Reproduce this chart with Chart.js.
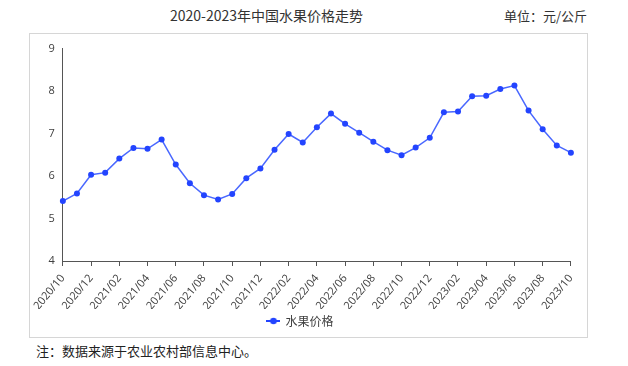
<!DOCTYPE html>
<html>
<head>
<meta charset="utf-8">
<script src="https://cdn.jsdelivr.net/npm/chart.js@4.4.1/dist/chart.umd.min.js"></script>
<style>
    body { margin: 0; background: #fff; width: 628px; height: 366px; position: relative; overflow: hidden;
           font-family: "Noto Sans CJK SC", sans-serif; color: #222; }
    #title { position: absolute; left: 170px; top: 5px; font-size: 14px; white-space: nowrap; color: #333; }
    #unit { position: absolute; left: 504px; top: 6px; font-size: 13px; color: #333; white-space: nowrap; }
    #box { position: absolute; left: 29px; top: 33px; width: 557px; height: 303px; border: 1px solid #d6d6d6; }
    #note { position: absolute; left: 36px; top: 341px; font-size: 13px; white-space: nowrap; }
</style>
</head>
<body>
<div id="title">2020-2023年中国水果价格走势</div>
<div id="unit">单位：元/公斤</div>
<div id="box"><canvas id="myChart" width="557" height="303"></canvas></div>
<div id="note">注：数据来源于农业农村部信息中心。</div>
<script>
// months 2020/10 .. 2023/10
var months = [
    '2020/10','2020/11','2020/12',
    '2021/01','2021/02','2021/03','2021/04','2021/05','2021/06','2021/07','2021/08','2021/09','2021/10','2021/11','2021/12',
    '2022/01','2022/02','2022/03','2022/04','2022/05','2022/06','2022/07','2022/08','2022/09','2022/10','2022/11','2022/12',
    '2023/01','2023/02','2023/03','2023/04','2023/05','2023/06','2023/07','2023/08','2023/09','2023/10'
];
var fruitPrice = [
    5.41, 5.59, 6.03,
    6.08, 6.41, 6.66, 6.64, 6.86, 6.27, 5.83, 5.55, 5.45, 5.58, 5.95, 6.18,
    6.62, 6.99, 6.79, 7.15, 7.47, 7.23, 7.02, 6.81, 6.61, 6.49, 6.67, 6.90,
    7.50, 7.52, 7.88, 7.89, 8.05, 8.13, 7.54, 7.10, 6.72, 6.55
];
var seriesName = '水果价格';
var yMin = 4, yMax = 9;

var lineColor = '#4a68ff';
var dotColor = '#2344ff';
var axisColor = '#555';
var textColor = '#404040';

// legend glyph: -●-
var legendIcon = document.createElement('canvas');
legendIcon.width = 14; legendIcon.height = 10;
(function(){
    var c = legendIcon.getContext('2d');
    c.strokeStyle = dotColor; c.lineWidth = 2;
    c.beginPath(); c.moveTo(0, 5); c.lineTo(4, 5); c.moveTo(10, 5); c.lineTo(14, 5); c.stroke();
    c.fillStyle = dotColor;
    c.beginPath(); c.arc(7, 5, 3.3, 0, Math.PI * 2); c.fill();
})();

var ctx = document.getElementById('myChart').getContext('2d');
var chart = new Chart(ctx, {
    type: 'line',
    data: {
        labels: months,
        datasets: [{
            label: seriesName,
            data: fruitPrice,
            borderColor: lineColor,
            backgroundColor: dotColor,
            borderWidth: 1.5,
            pointRadius: 3,
            pointBackgroundColor: dotColor,
            pointBorderColor: dotColor,
            pointBorderWidth: 0,
            pointStyle: 'circle',
            tension: 0
        }]
    },
    options: {
        responsive: false,
        animation: false,
        layout: { padding: { left: 0, right: 16, top: 11, bottom: 0 } },
        plugins: {
            title: { display: false },
            tooltip: { enabled: false },
            legend: {
                position: 'bottom',
                labels: {
                    usePointStyle: true,
                    pointStyle: legendIcon,
                    padding: 6,
                    color: textColor,
                    font: { family: '"Noto Sans CJK SC", sans-serif', size: 12 },
                    generateLabels: function(chart) {
                        return [{ text: seriesName, pointStyle: legendIcon, fontColor: textColor, datasetIndex: 0, lineWidth: 0 }];
                    }
                }
            }
        },
        scales: {
            x: {
                offset: false,
                grid: {
                    display: true,
                    drawOnChartArea: false,
                    drawTicks: true,
                    tickLength: 5,
                    tickColor: function(c) { return c.index % 2 === 0 ? axisColor : 'rgba(0,0,0,0)'; }
                },
                border: { display: true, color: axisColor, width: 1 },
                ticks: {
                    autoSkip: false,
                    maxRotation: 50,
                    minRotation: 50,
                    padding: 6,
                    color: textColor,
                    font: { family: '"Open Sans", sans-serif', size: 11 },
                    callback: function(v, i) { return i % 2 === 0 ? months[i] : ''; }
                },
                afterFit: function(s) { s.height = 48; }
            },
            y: {
                min: yMin,
                max: yMax,
                grid: { display: false, drawTicks: false },
                border: { display: true, color: axisColor, width: 1 },
                ticks: {
                    stepSize: 1,
                    padding: 8,
                    color: textColor,
                    font: { family: '"Open Sans", sans-serif', size: 11 }
                },
                afterFit: function(s) { s.width = 32; }
            }
        }
    }
});
</script>
</body>
</html>
